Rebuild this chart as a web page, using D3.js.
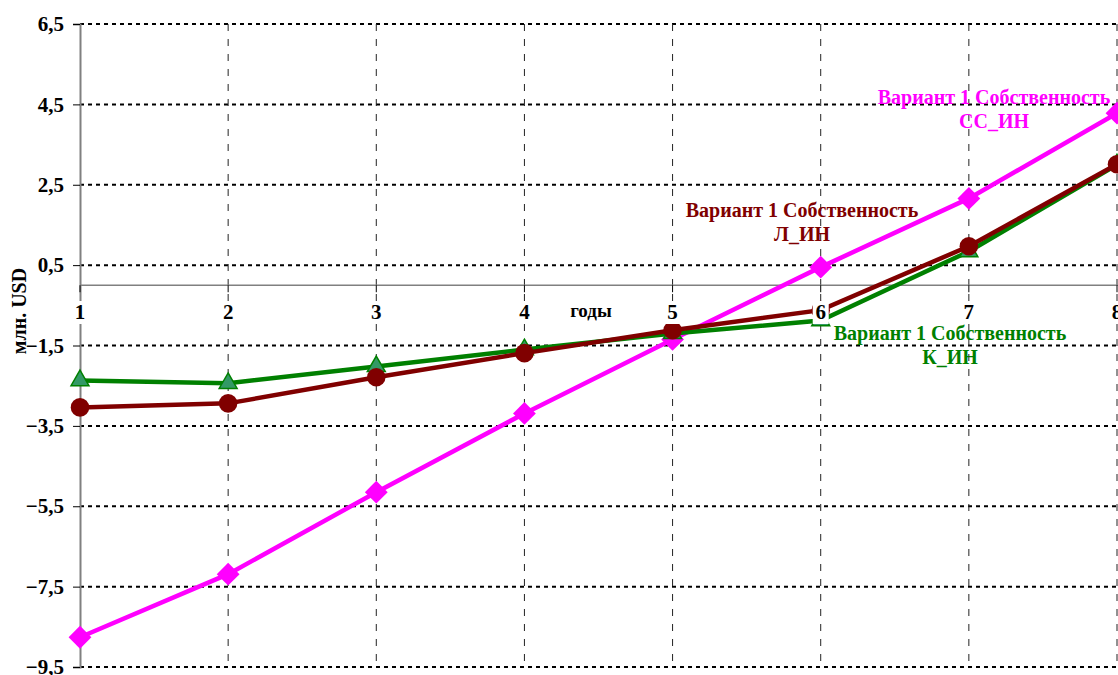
<!DOCTYPE html>
<html>
<head>
<meta charset="utf-8">
<script src="https://cdn.jsdelivr.net/npm/d3@7"></script>
<style>
  body { margin: 0; background: #fff; }
  svg { display: block; font-family: "Liberation Serif", "Times New Roman", serif; }
</style>
</head>
<body>
<svg id="chart" width="1118" height="675"></svg>
<script>
// years on the x axis
const years = [1, 2, 3, 4, 5, 6, 7, 8];
// million USD
const ssIn = [-8.76, -7.19, -5.15, -3.19, -1.35, 0.45, 2.16, 4.28];
const kIn = [-2.37, -2.44, -2.02, -1.60, -1.20, -0.88, 0.84, 3.00];
const lIn = [-3.04, -2.94, -2.29, -1.69, -1.12, -0.62, 0.97, 3.01];
const yTicks = [6.5, 4.5, 2.5, 0.5, -1.5, -3.5, -5.5, -7.5, -9.5];

const svg = d3.select("#chart");
const x = d3.scaleLinear().domain([1, 8]).range([80, 1117]);
const y = d3.scaleLinear().domain([-9.5, 6.5]).range([667, 24]);

// horizontal dotted grid
svg.append("g").selectAll("line")
  .data(yTicks)
  .enter()
  .append("line")
  .attr("x1", 80).attr("x2", 1118)
  .attr("y1", d => y(d)).attr("y2", d => y(d))
  .attr("stroke", "#000")
  .attr("stroke-width", 2)
  .attr("stroke-dasharray", "4,4");

// vertical dashed grid
svg.append("g").selectAll("line")
  .data(years.slice(1))
  .enter()
  .append("line")
  .attr("x1", d => x(d)).attr("x2", d => x(d))
  .attr("y1", y(6.5)).attr("y2", y(-9.5))
  .attr("stroke", "#222")
  .attr("stroke-width", 1)
  .attr("stroke-dasharray", "7,8");

// y axis
const yAxis = svg.append("g")
  .attr("transform", `translate(${x(1)},0)`)
  .call(d3.axisLeft(y).tickValues(yTicks).tickSize(7).tickFormat(d => d3.format(".1f")(d).replace(".", ",")));
yAxis.select(".domain").attr("stroke", "#808080").attr("stroke-width", 2);
yAxis.selectAll(".tick line").attr("stroke", "#000");
yAxis.selectAll("text")
  .attr("x", -16)
  .attr("font-family", "Liberation Serif")
  .attr("font-weight", "bold")
  .attr("font-size", 21)
  .attr("fill", "#000");

// x axis at zero
svg.append("line")
  .attr("x1", x(1)).attr("x2", 1118)
  .attr("y1", y(0)).attr("y2", y(0))
  .attr("stroke", "#808080")
  .attr("stroke-width", 1.5);
svg.append("g").selectAll("line")
  .data(years)
  .enter()
  .append("line")
  .attr("x1", d => x(d)).attr("x2", d => x(d))
  .attr("y1", y(0)).attr("y2", y(0) + 7)
  .attr("stroke", "#000");

const series = [
  { values: ssIn, color: "#ff00ff", marker: "diamond" },
  { values: kIn, color: "#008000", marker: "triangle" },
  { values: lIn, color: "#800000", marker: "circle" }
];

const line = d3.line()
  .x((d, i) => x(years[i]))
  .y(d => y(d));

series.forEach(s => {
  svg.append("path")
    .datum(s.values)
    .attr("d", line)
    .attr("fill", "none")
    .attr("stroke", s.color)
    .attr("stroke-width", 4.5);

  const sym = s.marker === "diamond" ? d3.symbolSquare
    : s.marker === "triangle" ? d3.symbolTriangle2 : d3.symbolCircle;
  const size = s.marker === "diamond" ? 260 : s.marker === "triangle" ? 230 : 270;
  svg.append("g").selectAll("path")
    .data(s.values)
    .enter()
    .append("path")
    .attr("transform", (d, i) => `translate(${x(years[i])},${y(d)})` + (s.marker === "diamond" ? " rotate(45)" : ""))
    .attr("d", d3.symbol().type(sym).size(size))
    .attr("fill", s.marker === "triangle" ? "#339966" : s.color)
    .attr("stroke", s.color)
    .attr("stroke-width", s.marker === "triangle" ? 1.5 : 0);
});

// x tick labels with white boxes on top of the series
const xl = svg.append("g").selectAll("g")
  .data(years)
  .enter()
  .append("g")
  .attr("transform", d => `translate(${x(d)},319)`);
xl.append("rect")
  .attr("x", -8).attr("y", -18)
  .attr("width", 16).attr("height", 23)
  .attr("fill", "#fff");
xl.append("text")
  .attr("text-anchor", "middle")
  .attr("font-weight", "bold")
  .attr("font-size", 21)
  .text(d => d);

// axis titles
svg.append("text")
  .attr("x", 591).attr("y", 317)
  .attr("text-anchor", "middle")
  .attr("font-weight", "bold")
  .attr("font-size", 19)
  .text("годы");
svg.append("text")
  .attr("transform", "translate(26,311) rotate(-90)")
  .attr("text-anchor", "middle")
  .attr("font-weight", "bold")
  .attr("font-size", 20)
  .text("млн. USD");

// series labels
const labels = [
  { lines: ["Вариант 1 Собственность", "СС_ИН"], color: "#ff00ff", cx: 994, cy: 104 },
  { lines: ["Вариант 1 Собственность", "Л_ИН"], color: "#800000", cx: 802, cy: 217 },
  { lines: ["Вариант 1 Собственность", "К_ИН"], color: "#008000", cx: 950, cy: 340 }
];
labels.forEach(l => {
  const t = svg.append("text")
    .attr("text-anchor", "middle")
    .attr("font-weight", "bold")
    .attr("font-size", 20)
    .attr("fill", l.color);
  l.lines.forEach((s, i) => {
    t.append("tspan").attr("x", l.cx).attr("y", l.cy + i * 24).text(s);
  });
});
</script>
</body>
</html>
